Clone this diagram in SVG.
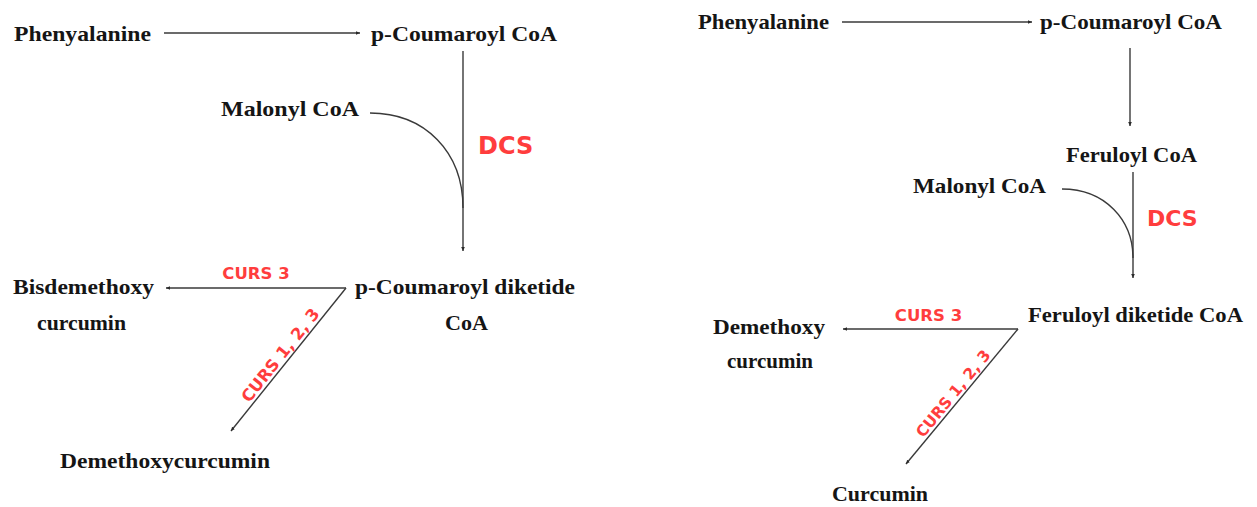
<svg xmlns="http://www.w3.org/2000/svg" width="1257" height="507" viewBox="0 0 1257 507">
<style>
.t{font-family:"Liberation Serif","Times New Roman",serif;font-weight:bold;font-size:22px;fill:#151515}
.e{font-family:"DejaVu Sans",sans-serif;font-weight:bold;fill:#ff3d3d}
.c{fill:none;stroke:#3a3a3a;stroke-width:1.4}
</style>
<defs>
<marker id="ah" markerUnits="userSpaceOnUse" markerWidth="5" markerHeight="5" refX="4" refY="2.5" orient="auto">
<path d="M0,0.7 L4,2.5 L0,4.3 z" fill="#2a2a2a"/>
</marker>
</defs>
<rect width="1257" height="507" fill="#ffffff"/>
<g id="connectors">
<line class="c" x1="164" y1="33" x2="360" y2="33" marker-end="url(#ah)"/>
<line class="c" x1="463" y1="51" x2="463" y2="251" marker-end="url(#ah)"/>
<path class="c" d="M370,113 C425,113 463,152 463,208"/>
<line class="c" x1="346" y1="288" x2="166" y2="288" marker-end="url(#ah)"/>
<line class="c" x1="346" y1="288" x2="231" y2="431" marker-end="url(#ah)"/>
<line class="c" x1="842" y1="22" x2="1032" y2="22" marker-end="url(#ah)"/>
<line class="c" x1="1130" y1="48" x2="1130" y2="126" marker-end="url(#ah)"/>
<line class="c" x1="1133" y1="172" x2="1133" y2="278" marker-end="url(#ah)"/>
<path class="c" d="M1062,189 C1105,189 1133,220 1133,258"/>
<line class="c" x1="1018" y1="329" x2="843" y2="329" marker-end="url(#ah)"/>
<line class="c" x1="1018" y1="329" x2="906" y2="464" marker-end="url(#ah)"/>
</g>
<g id="labels">
<text class="e" x="478" y="154" font-size="24">DCS</text>
<text class="e" x="256" y="279" font-size="16.5" text-anchor="middle">CURS 3</text>
<text class="e" font-size="16.5" text-anchor="middle" transform="translate(287.2,360.7) rotate(-51.5)" y="-3">CURS 1, 2, 3</text>
<text class="e" x="1147" y="226" font-size="22">DCS</text>
<text class="e" x="928.5" y="321" font-size="16.5" text-anchor="middle">CURS 3</text>
<text class="e" font-size="15.5" text-anchor="middle" transform="translate(959.6,398.9) rotate(-50.6)" y="-3">CURS 1, 2, 3</text>
</g>
<g id="n-phe-left"><text class="t" x="14" y="41" textLength="137" lengthAdjust="spacingAndGlyphs">Phenyalanine</text></g>
<g id="n-pcoa-left"><text class="t" x="371" y="41" textLength="186" lengthAdjust="spacingAndGlyphs">p-Coumaroyl CoA</text></g>
<g id="n-mal-left"><text class="t" x="221" y="116" textLength="138" lengthAdjust="spacingAndGlyphs">Malonyl CoA</text></g>
<g id="n-bdmc"><text class="t" x="13" y="294" textLength="141" lengthAdjust="spacingAndGlyphs">Bisdemethoxy</text><text class="t" x="37" y="330" textLength="89" lengthAdjust="spacingAndGlyphs">curcumin</text></g>
<g id="n-pcdk"><text class="t" x="355" y="294" textLength="220" lengthAdjust="spacingAndGlyphs">p-Coumaroyl diketide</text><text class="t" x="445" y="330" textLength="43" lengthAdjust="spacingAndGlyphs">CoA</text></g>
<g id="n-dmc-left"><text class="t" x="60" y="468" textLength="210" lengthAdjust="spacingAndGlyphs">Demethoxycurcumin</text></g>
<g id="n-phe-right"><text class="t" x="698" y="29" textLength="131" lengthAdjust="spacingAndGlyphs">Phenyalanine</text></g>
<g id="n-pcoa-right"><text class="t" x="1040" y="29" textLength="182" lengthAdjust="spacingAndGlyphs">p-Coumaroyl CoA</text></g>
<g id="n-fer"><text class="t" x="1066" y="162" textLength="131" lengthAdjust="spacingAndGlyphs">Feruloyl CoA</text></g>
<g id="n-mal-right"><text class="t" x="913" y="193" textLength="133" lengthAdjust="spacingAndGlyphs">Malonyl CoA</text></g>
<g id="n-ferdk"><text class="t" x="1028" y="322" textLength="215" lengthAdjust="spacingAndGlyphs">Feruloyl diketide CoA</text></g>
<g id="n-dmc-right"><text class="t" x="713" y="334" textLength="112" lengthAdjust="spacingAndGlyphs">Demethoxy</text><text class="t" x="727" y="368" textLength="86" lengthAdjust="spacingAndGlyphs">curcumin</text></g>
<g id="n-cur"><text class="t" x="832" y="501" textLength="96" lengthAdjust="spacingAndGlyphs">Curcumin</text></g>
</svg>
